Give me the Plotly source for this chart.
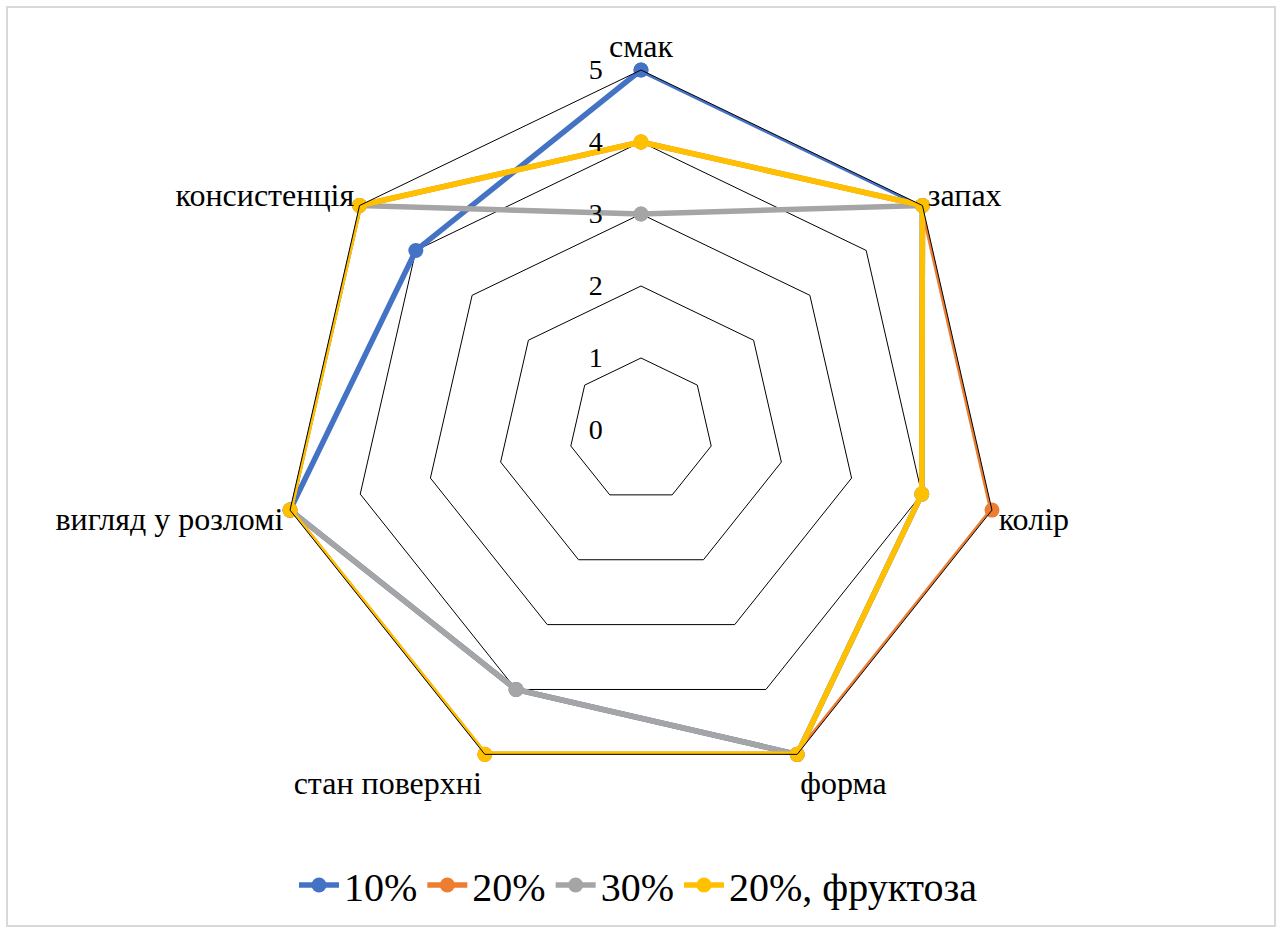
import plotly.graph_objects as go

categories = ["смак", "запах", "колір", "форма", "стан поверхні", "вигляд у розломі", "консистенція"]
s10 = [5, 5, 4, 5, 4, 5, 4]
s20 = [4, 5, 5, 5, 5, 5, 5]
s30 = [3, 5, 4, 5, 4, 5, 5]
s20f = [4, 5, 4, 5, 5, 5, 5]
names = ["10%", "20%", "30%", "20%, фруктоза"]
colors = ["#4472C4", "#ED7D31", "#A5A5A5", "#FFC000"]
tick_vals = [0, 1, 2, 3, 4, 5]

FONT = "Liberation Serif, Times New Roman, serif"
fig = go.Figure()
for name, vals, col in zip(names, [s10, s20, s30, s20f], colors):
    fig.add_trace(go.Scatterpolar(
        r=vals + vals[:1], theta=categories + categories[:1],
        mode="lines+markers", name=name,
        line=dict(color=col, width=5.5),
        marker=dict(color=col, size=15),
    ))

W, H = 1277, 931
cx, cy, R = 641, 430, 360
fig.update_layout(
    width=W, height=H,
    margin=dict(l=0, r=0, t=0, b=0),
    paper_bgcolor="white", plot_bgcolor="white",
    font=dict(family=FONT, color="black"),
    polar=dict(
        domain=dict(x=[(cx - R) / W, (cx + R) / W], y=[(H - cy - R) / H, (H - cy + R) / H]),
        gridshape="linear",
        bgcolor="white",
        radialaxis=dict(range=[0, 5], tickvals=tick_vals, showline=False, showgrid=True,
                        gridcolor="black", gridwidth=1, angle=90, tickangle=90,
                        side="counterclockwise", ticks="outside", ticklen=28,
                        tickcolor="rgba(0,0,0,0)",
                        tickfont=dict(family=FONT, size=28)),
        angularaxis=dict(direction="clockwise", rotation=90, showgrid=False, showline=True,
                         linecolor="black", linewidth=1, ticks="",
                         tickfont=dict(family=FONT, size=32)),
    ),
    legend=dict(orientation="h", x=0.5, xanchor="center", y=(H - 885) / H, yanchor="middle",
                font=dict(family=FONT, size=40), itemwidth=40),
    shapes=[dict(type="rect", xref="paper", yref="paper", x0=7 / W, x1=1275 / W,
                 y0=(H - 926) / H, y1=(H - 7) / H, line=dict(color="#D9D9D9", width=2))],
)
fig.write_html("out.html")
